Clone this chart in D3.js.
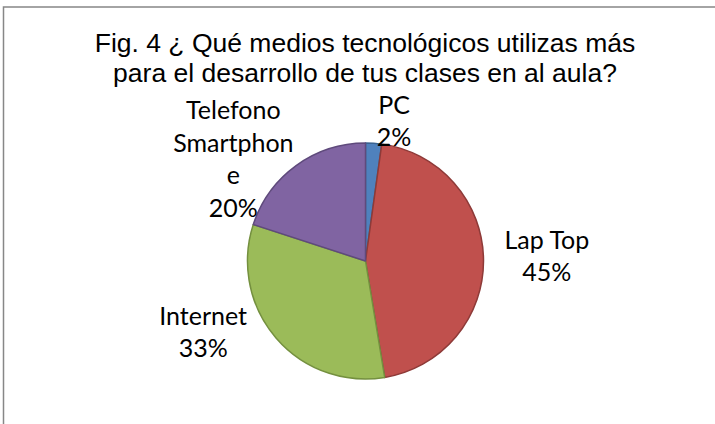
<!DOCTYPE html>
<meta charset="utf-8">
<style>
body { margin: 0; background: #fff; }
.title { font-family: "Liberation Sans", Arial, sans-serif; font-size: 26.5px; fill: #000; }
.lbl { font-family: Lato, "Open Sans", sans-serif; font-size: 25px; fill: #000; }
</style>
<body>
<script src="https://cdn.jsdelivr.net/npm/d3@7/dist/d3.min.js"></script>
<script>

var titleLines = ["Fig. 4 \u00bf Qu\u00e9 medios tecnol\u00f3gicos utilizas m\u00e1s",
                  "para el desarrollo de tus clases en al aula?"];
var categories = ["PC", "Lap Top", "Internet", "Telefono Smartphone"];
var values = [2.2, 45.2, 32.6, 20.0];
var colors = ["#4F81BD", "#C0504D", "#9BBB59", "#8064A2"];
var strokes = ["#3A6391", "#8E3A38", "#74903F", "#5F4A7C"];

var width = 715, height = 424;
var cx = 365.5, cy = 261, r = 118;
var lineH = 32.7;
// nudges from the label centroid (excel "best fit" placement)
var nudge = [[18, 14], [28, -2], [-46, -28], [-42, 23]];

var svg = d3.select("body").append("svg")
  .attr("width", width)
  .attr("height", height);

svg.append("rect")
  .attr("x", 3.5).attr("y", 7)
  .attr("width", width + 20).attr("height", height + 20)
  .attr("fill", "#fff")
  .attr("stroke", "#878787")
  .attr("stroke-width", 1.5);

svg.selectAll("text.title")
  .data(titleLines)
  .enter().append("text")
  .attr("class", "title")
  .attr("x", 365)
  .attr("y", function(d, i) { return 52 + i * 29.5; })
  .attr("text-anchor", "middle")
  .text(function(d) { return d; });

var pie = d3.pie().sort(null).value(function(d) { return d; });
var arcs = pie(values);

var arc = d3.arc().innerRadius(0).outerRadius(r);
var labelArc = d3.arc().innerRadius(r * 1.3).outerRadius(r * 1.3);

var g = svg.append("g")
  .attr("transform", "translate(" + cx + "," + cy + ")");

g.selectAll("path")
  .data(arcs)
  .enter().append("path")
  .attr("d", arc)
  .attr("fill", function(d, i) { return colors[i]; })
  .attr("stroke", function(d, i) { return strokes[i]; })
  .attr("stroke-width", 1.5)
  .attr("stroke-linejoin", "round");

// wrap a label the way excel does: by words, then by characters
var probe = svg.append("text").attr("class", "lbl");
function textW(s) { probe.text(s); return probe.node().getComputedTextLength(); }
function wrap(str, maxW) {
  var out = [], cur = "";
  str.split(" ").forEach(function(w) {
    var t = cur ? cur + " " + w : w;
    if (textW(t) <= maxW) { cur = t; return; }
    if (cur) out.push(cur);
    cur = "";
    w.split("").forEach(function(ch) {
      if (textW(cur + ch) <= maxW) cur += ch;
      else { out.push(cur); cur = ch; }
    });
  });
  if (cur) out.push(cur);
  return out;
}

var labels = g.selectAll("text.lbl")
  .data(arcs)
  .enter().append("text")
  .attr("class", "lbl")
  .attr("text-anchor", "middle")
  .each(function(d, i) {
    var lines = wrap(categories[i], 122);
    lines.push(Math.round(values[i]) + "%");
    var c = labelArc.centroid(d);
    var x = c[0] + nudge[i][0];
    var yMid = c[1] + nudge[i][1];
    var y0 = yMid - (lines.length - 1) * lineH / 2 + 8;
    var t = d3.select(this);
    lines.forEach(function(l, k) {
      t.append("tspan").attr("x", x).attr("y", y0 + k * lineH).text(l);
    });
  });
probe.remove();

</script>
</body>
